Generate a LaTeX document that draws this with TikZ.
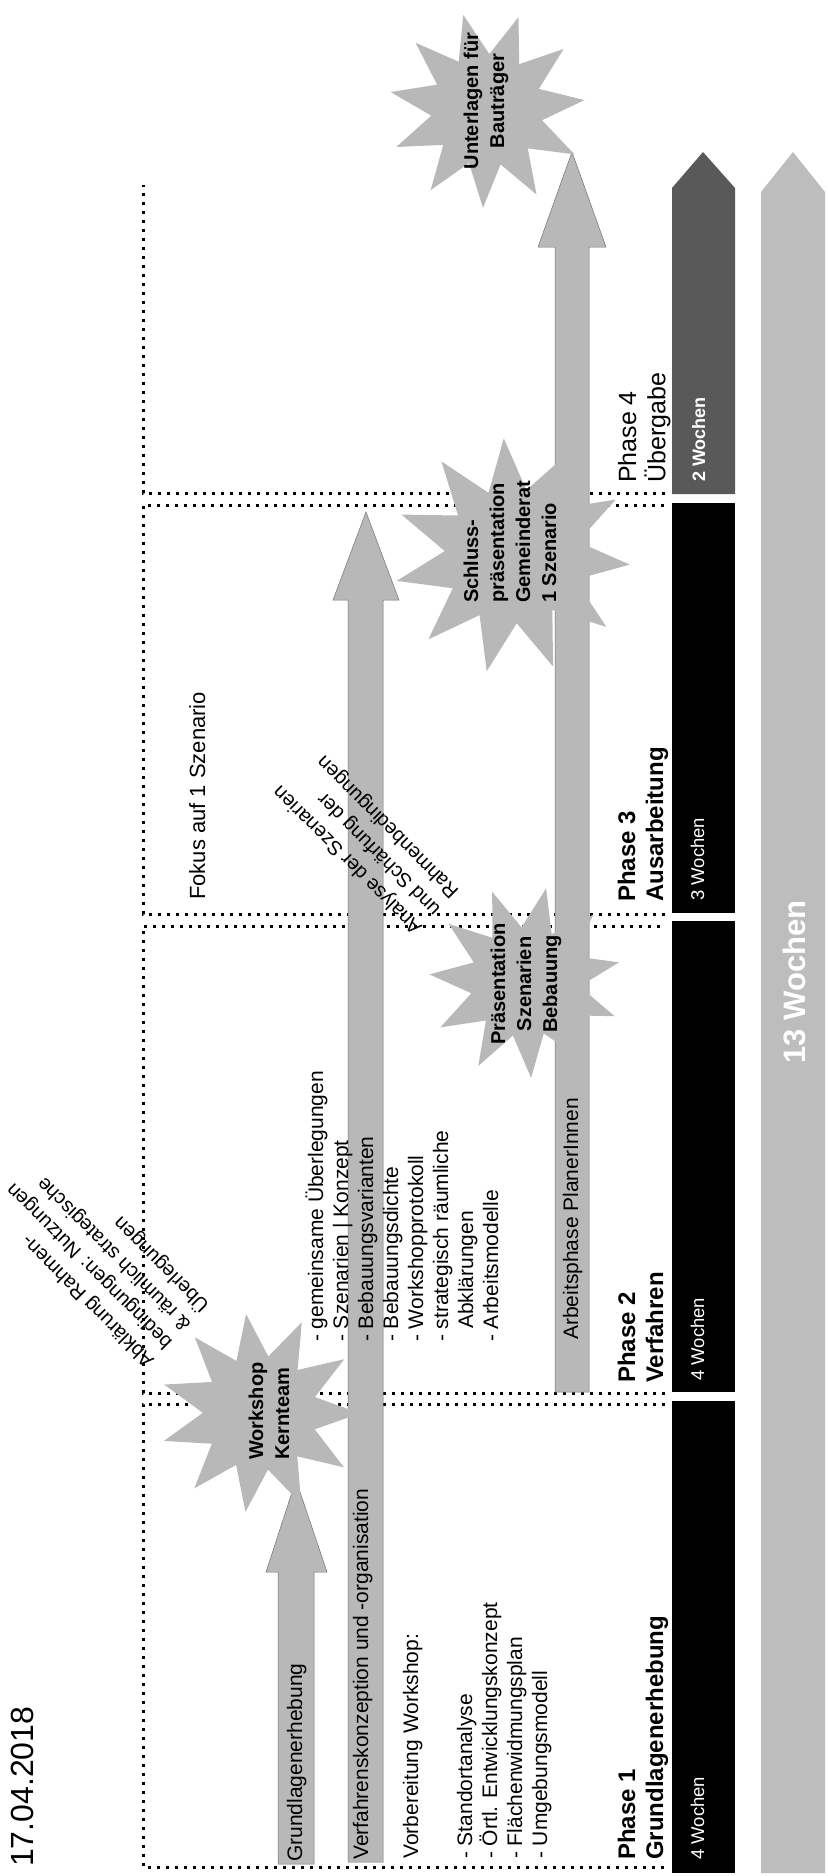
\documentclass[tikz,border=0pt]{standalone}
\usepackage{fontspec}
\setmainfont{Liberation Sans}
\usetikzlibrary{shapes.geometric}
\newcommand\leftlines[1]{\begin{tabular}[t]{@{}l@{}}#1\end{tabular}}
\newcommand\centerlines[1]{\begin{tabular}[t]{@{}c@{}}#1\end{tabular}}
\begin{document}
\begin{tikzpicture}[x=1pt,y=-1pt,
  dotline/.style={line width=3pt, dash pattern=on 3pt off 6pt, black},
  grayarrow/.style={fill=black!28, draw=black!55, line width=0.5pt},
  starshape/.style={star, star points=11, star point ratio=1.75, fill=black!28, draw=none, inner sep=0pt},
  rtext/.style={rotate=90, anchor=base west, inner sep=0pt, font=\fontsize{21}{25}\selectfont},
  startext/.style={rotate=90, inner sep=0pt, font=\fontsize{20}{26}\selectfont\bfseries},
  diagtext/.style={rotate=135, anchor=base west, inner sep=0pt, font=\fontsize{20}{26}\selectfont},
  phase/.style={rotate=90, anchor=base west, inner sep=0pt, font=\fontsize{24}{28}\selectfont\bfseries},
  wlabel/.style={rotate=90, anchor=base west, inner sep=0pt, text=white, font=\fontsize{18.5}{22}\selectfont}
]
\useasboundingbox (0,0) rectangle (827,1876);

% dotted phase frames
\draw[dotline] (665,1404) -- (143,1404) -- (143,1867) -- (665,1867);
\draw[dotline] (665,1393) -- (143,1393) -- (143,926) -- (665,926);
\draw[dotline] (665,914) -- (143,914) -- (143,505) -- (665,505);
\draw[dotline] (665,493) -- (143,493) -- (143,185);

% phase bars
\fill[black] (672,1873) rectangle (735,1401);
\fill[black] (672,1392) rectangle (735,921);
\fill[black] (672,913) rectangle (735,503);
\fill[black!65] (672,494) -- (672,188) -- (703,152) -- (735,188) -- (735,494) -- cycle;
\fill[black!26] (761,1873) -- (761,192) -- (793,152) -- (825,192) -- (825,1873) -- cycle;

% gray arrows
\filldraw[grayarrow] (278,1864) -- (278,1572) -- (266,1572) -- (296,1480) -- (327,1572) -- (314,1572) -- (314,1864) -- cycle;
\filldraw[grayarrow] (348,1862) -- (348,600) -- (333,600) -- (366,512) -- (399,600) -- (383,600) -- (383,1862) -- cycle;
\filldraw[grayarrow] (555,1392) -- (555,247) -- (538,247) -- (572,152) -- (606,247) -- (589,247) -- (589,1392) -- cycle;

% stars
\node[starshape, minimum size=200pt, rotate=8] (ws) at (260,1413) {};
\node[starshape, minimum size=192pt, rotate=20] (praes) at (525,982) {};
\node[starshape, minimum size=236pt, rotate=4] (schluss) at (512,556) {};
\node[starshape, minimum size=196pt, rotate=14] (unter) at (487,110) {};

\node[startext, anchor=base west] (wst) at (263,1460) {\leftlines{Workshop\\Kernteam}};
\node[startext, anchor=base] (praest) at (505,984) {\centerlines{Präsentation\\Szenarien\\Bebauung}};
\node[startext, anchor=base west] (schlusst) at (478,603) {\leftlines{Schluss-\\präsentation\\Gemeinderat\\1 Szenario}};
\node[startext, anchor=base] (untert) at (478,101) {\centerlines{Unterlagen für\\Bauträger}};

% texts
\node[rotate=90, anchor=base west, inner sep=0pt, font=\fontsize{32}{38}\selectfont] (date) at (33,1867) {17.04.2018};
\node[rtext] (grund) at (302,1862) {Grundlagenerhebung};
\node[rtext] (verf) at (368,1860) {Verfahrenskonzeption und -organisation};
\node[rtext] (arb) at (578,1340) {Arbeitsphase PlanerInnen};
\node[rtext] (vorb) at (418,1859) {\leftlines{Vorbereitung Workshop:\\[29pt]- Standortanalyse\\- Örtl. Entwicklungskonzept\\- Flächenwidmungsplan\\- Umgebungsmodell}};
\node[rtext] (list2) at (323,1342) {\leftlines{- gemeinsame Überlegungen\\- Szenarien | Konzept\\- Bebauungsvarianten\\- Bebauungsdichte\\- Workshopprotokoll\\- strategisch räumliche\\\phantom{- }Abklärungen\\- Arbeitsmodelle}};
\node[rtext, font=\fontsize{22}{26}\selectfont] (fokus) at (205,900) {Fokus auf 1 Szenario};
\node[diagtext] (abkl) at (155,1360) {\leftlines{Abklärung Rahmen-\\bedingungen: Nutzungen\\\& räumlich strategische\\Überlegungen}};
\node[diagtext] (analyse) at (423,927) {\leftlines{Analyse der Szenarien\\und Schärfung der\\Rahmenbedingungen}};

% phase labels
\node[phase] (p1) at (635,1860) {\leftlines{Phase 1\\Grundlagenerhebung}};
\node[phase] (p2) at (635,1383) {\leftlines{Phase 2\\Verfahren}};
\node[phase] (p3) at (635,902) {\leftlines{Phase 3\\Ausarbeitung}};
\node[phase, font=\fontsize{25}{28}\selectfont] (p4) at (636,483) {\leftlines{Phase 4\\Übergabe}};

\node[wlabel] (w1) at (704,1860) {4 Wochen};
\node[wlabel] (w2) at (704,1381) {4 Wochen};
\node[wlabel] (w3) at (704,901) {3 Wochen};
\node[wlabel, font=\fontsize{18}{22}\selectfont\bfseries] (w4) at (705,482) {2 Wochen};
\node[rotate=90, inner sep=0pt, text=white, font=\fontsize{31}{36}\selectfont\bfseries] (total) at (794,982) {13 Wochen};
\end{tikzpicture}
\end{document}
